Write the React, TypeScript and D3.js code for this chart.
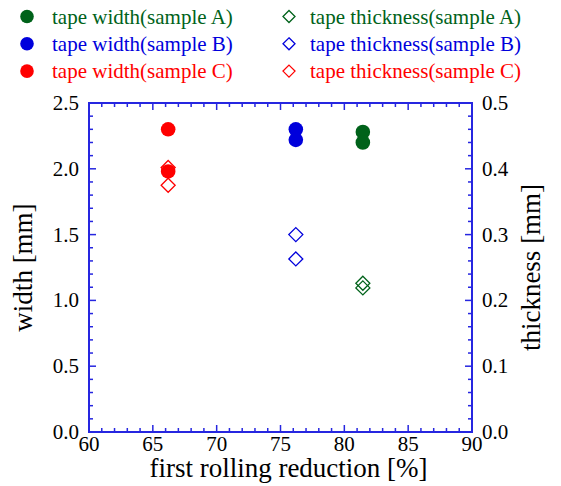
import React from "react";
import * as d3 from "d3";

const reductionA = [81.45, 81.45];
const widthA = [2.28, 2.2];
const thickA = [0.226, 0.219];
const reductionB = [76.2, 76.2];
const widthB = [2.3, 2.22];
const thickB = [0.3, 0.263];
const reductionC = [66.2, 66.2];
const widthC = [2.3, 1.98];
const thickC = [0.402, 0.375];

const xTicks = [60, 65, 70, 75, 80, 85, 90];
const yLeftTicks = [0, 0.5, 1.0, 1.5, 2.0, 2.5];
const yRightTicks = [0, 0.1, 0.2, 0.3, 0.4, 0.5];

const legendLabels = [
  "tape width(sample A)",
  "tape width(sample B)",
  "tape width(sample C)",
];
const legendLabels2 = [
  "tape thickness(sample A)",
  "tape thickness(sample B)",
  "tape thickness(sample C)",
];

const GREEN = "#00621a";
const BLUE = "#0000dc";
const RED = "#ff0000";
const AXIS = "#2626e0";
const FONT = "'Liberation Serif', 'Times New Roman', Times, serif";

export default function App() {
  const L = 89, R = 472, T = 103, B = 432;
  const x = d3.scaleLinear().domain([60, 90]).range([L, R]);
  const yL = d3.scaleLinear().domain([0, 2.5]).range([B, T]);
  const yR = d3.scaleLinear().domain([0, 0.5]).range([B, T]);

  const xMinor = d3.range(60, 90.001, 1);
  const yMinor = d3.range(0, 2.5001, 0.1);

  const series = [
    { xs: reductionA, w: widthA, t: thickA, c: GREEN },
    { xs: reductionB, w: widthB, t: thickB, c: BLUE },
    { xs: reductionC, w: widthC, t: thickC, c: RED },
  ];
  const colors = [GREEN, BLUE, RED];
  const diamond = (cx: number, cy: number, s: number) =>
    `M${cx},${cy - s}L${cx + s},${cy}L${cx},${cy + s}L${cx - s},${cy}Z`;

  return (
    <svg
      width={561}
      height={486}
      style={{ position: "absolute", left: 0, top: 0, background: "#fff", fontFamily: FONT }}
    >
      <rect width={561} height={486} fill="#fff" />
      {/* legend */}
      {legendLabels.map((lab, i) => {
        const cy = 16.5 + i * 27.3;
        return (
          <g key={lab}>
            <circle cx={27} cy={cy} r={6.8} fill={colors[i]} />
            <text x={52} y={cy + 7} fontSize={21} fontFamily={FONT} fill={colors[i]}>
              {lab}
            </text>
          </g>
        );
      })}
      {legendLabels2.map((lab, i) => {
        const cy = 16.5 + i * 27.3;
        return (
          <g key={lab}>
            <path d={diamond(289, cy, 6)} fill="none" stroke={colors[i]} strokeWidth={1.3} />
            <text x={310} y={cy + 7} fontSize={21} fontFamily={FONT} fill={colors[i]}>
              {lab}
            </text>
          </g>
        );
      })}

      {/* ticks */}
      <g stroke={AXIS} strokeWidth={1.5}>
        {xMinor.map((v) => {
          const major = Math.round(v) % 5 === 0;
          const len = major ? 7 : 4;
          return (
            <g key={"x" + v}>
              <line x1={x(v)} x2={x(v)} y1={B} y2={B - len} />
              <line x1={x(v)} x2={x(v)} y1={T} y2={T + len} />
            </g>
          );
        })}
        {yMinor.map((v, i) => {
          const major = i % 5 === 0;
          const len = major ? 7 : 4;
          return (
            <g key={"y" + i}>
              <line x1={L} x2={L + len} y1={yL(v)} y2={yL(v)} />
              <line x1={R} x2={R - len} y1={yL(v)} y2={yL(v)} />
            </g>
          );
        })}
      </g>
      <rect x={L} y={T} width={R - L} height={B - T} fill="none" stroke={AXIS} strokeWidth={2} />

      {/* tick labels */}
      {xTicks.map((v) => (
        <text key={"xl" + v} x={x(v)} y={B + 19} fontSize={21} fontFamily={FONT} textAnchor="middle" fill="#000">
          {v}
        </text>
      ))}
      {yLeftTicks.map((v) => (
        <text key={"yl" + v} x={L - 10} y={yL(v) + 7} fontSize={21} fontFamily={FONT} textAnchor="end" fill="#000">
          {v.toFixed(1)}
        </text>
      ))}
      {yRightTicks.map((v) => (
        <text key={"yr" + v} x={R + 10} y={yR(v) + 7} fontSize={21} fontFamily={FONT} textAnchor="start" fill="#000">
          {v.toFixed(1)}
        </text>
      ))}

      {/* axis titles */}
      <text x={(L + R) / 2 + 8} y={477} fontSize={27} fontFamily={FONT} textAnchor="middle" fill="#000">
        first rolling reduction [%]
      </text>
      <text
        transform={`translate(32,${(T + B) / 2}) rotate(-90)`}
        fontSize={27}
        fontFamily={FONT}
        textAnchor="middle"
        fill="#000"
      >
        width [mm]
      </text>
      <text
        transform={`translate(540,${(T + B) / 2}) rotate(-90)`}
        fontSize={27}
        fontFamily={FONT}
        textAnchor="middle"
        fill="#000"
      >
        thickness [mm]
      </text>

      {/* data: diamonds then circles */}
      {series.map((s, si) =>
        s.xs.map((xv, i) => (
          <path
            key={"d" + si + i}
            d={diamond(x(xv), yR(s.t[i]), 7)}
            fill="none"
            stroke={s.c}
            strokeWidth={1.3}
          />
        ))
      )}
      {series.map((s, si) =>
        s.xs.map((xv, i) => (
          <circle key={"c" + si + i} cx={x(xv)} cy={yL(s.w[i])} r={7.3} fill={s.c} />
        ))
      )}
    </svg>
  );
}
